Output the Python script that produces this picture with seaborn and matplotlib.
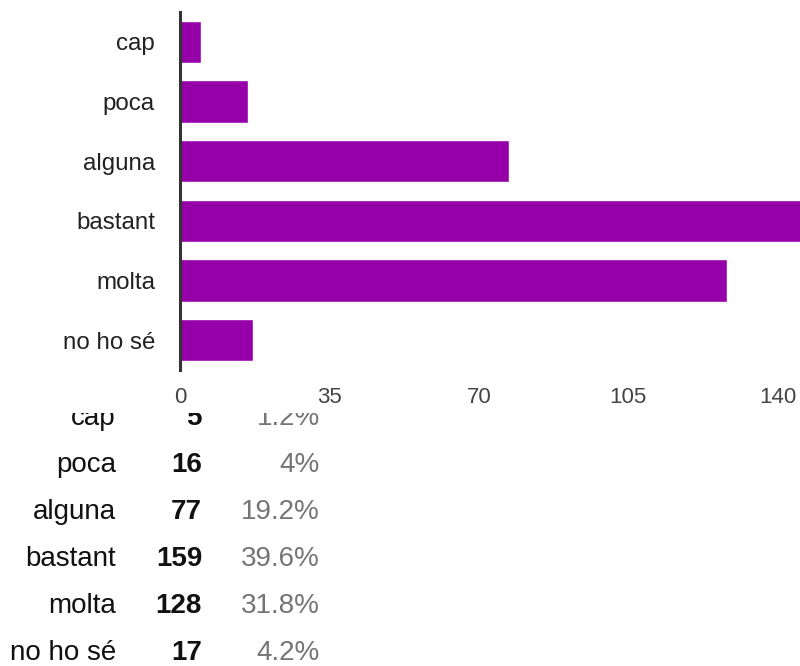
import matplotlib
matplotlib.use("Agg")
import matplotlib.pyplot as plt
import pandas as pd
import seaborn as sns

categories = ["cap", "poca", "alguna", "bastant", "molta", "no ho sé"]
counts = [5, 16, 77, 159, 128, 17]
percents = ["1.2%", "4%", "19.2%", "39.6%", "31.8%", "4.2%"]
x_ticks = [0, 35, 70, 105, 140]

BAR_COLOR = "#9600a8"

sns.set_style("white")
plt.rcParams["font.family"] = ["Liberation Sans", "DejaVu Sans"]

W, H = 800, 666
fig = plt.figure(figsize=(W / 100, H / 100), dpi=100)

# bar chart (the bastant bar runs past the right edge, as in the original)
ax = fig.add_axes([180 / W, 1 - 370 / H, 620 / W, 358 / H])
df = pd.DataFrame({"cat": categories, "n": counts})
sns.barplot(data=df, y="cat", x="n", color=BAR_COLOR, orient="h", width=0.71,
            saturation=1, ax=ax)
ax.set_xlim(0, 620 / 4.27)
ax.set_ylim(5.5, -0.5)
ax.set_xlabel("")
ax.set_ylabel("")
ax.set_xticks(x_ticks)
ax.set_xticklabels([str(t) for t in x_ticks], fontsize=16, color="#444444")
ax.tick_params(axis="x", length=0, pad=12)
ax.tick_params(axis="y", length=0, pad=18, labelsize=17.4, labelcolor="#222222")
for s in ["top", "right", "bottom"]:
    ax.spines[s].set_visible(False)
ax.spines["left"].set_color("#333333")
ax.spines["left"].set_linewidth(2.2)
ax.grid(False)

# summary table underneath; its first row is cut by the chart area above
clip_top = 413
tax = fig.add_axes([0, 0, 1, (H - clip_top) / H])
tax.set_xlim(0, W)
tax.set_ylim(H - clip_top, 0)
tax.axis("off")
for i, (c, n, p) in enumerate(zip(categories, counts, percents)):
    y = 425 + 46.9 * i - clip_top
    tax.text(116, y, c, ha="right", va="baseline", fontsize=20, color="#111111", clip_on=True)
    tax.text(202, y, str(n), ha="right", va="baseline", fontsize=20, fontweight="bold",
             color="#111111", clip_on=True)
    tax.text(320, y, p, ha="right", va="baseline", fontsize=20, color="#757575", clip_on=True)

fig.savefig("out.png", dpi=100)
